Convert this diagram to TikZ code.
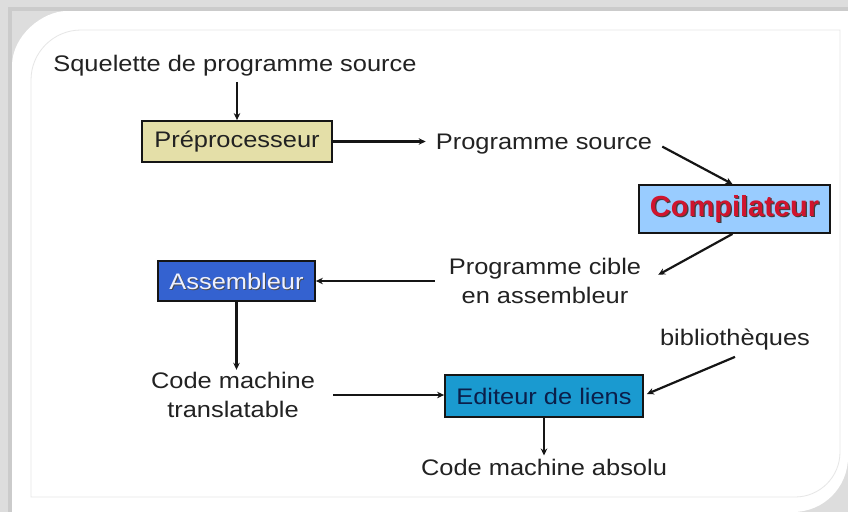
\documentclass[tikz,border=0pt]{standalone}
\usepackage{fontspec}
\setmainfont{Liberation Sans}[FakeStretch=1.13]
\newfontfamily\titlesans{Liberation Sans}[FakeStretch=1.0]
\usetikzlibrary{arrows.meta}

\definecolor{framegray}{HTML}{DDDDDD}
\definecolor{framedark}{HTML}{CBCBCB}
\definecolor{innerline}{HTML}{E6E6E6}
\definecolor{inkcol}{HTML}{222222}
\definecolor{linecol}{HTML}{151515}
\definecolor{prefill}{HTML}{E4DFA8}
\definecolor{compfill}{HTML}{99CCFF}
\definecolor{compred}{HTML}{D0142E}
\definecolor{asmfill}{HTML}{3462D0}
\definecolor{asmtext}{HTML}{EEF1FF}
\definecolor{edlfill}{HTML}{1A9AD0}
\definecolor{edltext}{HTML}{0B1F4A}

\begin{document}
\begin{tikzpicture}[x=1pt,y=-1pt,
  txt/.style={inner sep=0pt, text=inkcol, align=center,
    font=\fontsize{22.5}{29.5}\selectfont},
  box/.style={draw=linecol, line width=1.8pt, inner sep=0pt, text=inkcol,
    font=\fontsize{22.5}{29.5}\selectfont},
  comptext/.style={inner sep=0pt, font=\titlesans\bfseries\fontsize{29}{33}\selectfont},
  arr/.style={draw=linecol, line width=2.2pt, -{Stealth[length=7pt,width=6.5pt]}}]

\useasboundingbox (0,0) rectangle (848,512);

% grey backdrop with darker inner strips
\fill[framegray] (0,0) rectangle (848,512);
\fill[framedark] (8,7) rectangle (12,512);
\fill[framedark] (8,7) rectangle (848,11);

% white card: rounded top-left and bottom-right corners
\fill[white] (12,512) -- (12,66) .. controls (12,35.6) and (42.4,11) .. (67,11)
  -- (848,11) -- (848,457) .. controls (848,487.4) and (823.6,512) .. (793,512) -- cycle;

% faint inner outline
\draw[innerline, line width=0.8pt] (31,497) -- (31,80) .. controls (31,52.4) and (53.4,30) .. (81,30)
  -- (840,30) -- (840,452) .. controls (840,476.9) and (819.9,497) .. (795,497) -- cycle;

% texts
\node[txt, anchor=base] (sq) at (235,71) {Squelette de programme source};
\node[txt, anchor=base] (ps) at (544,149) {Programme source};
\node[txt] (pc) at (545,281) {Programme cible\\en assembleur};
\node[txt] (cmt) at (233,395) {Code machine\\translatable};
\node[txt, anchor=base] (bib) at (735,345) {bibliothèques};
\node[txt, anchor=base] (cma) at (544,475) {Code machine absolu};

% boxes
\node[box, fill=prefill, minimum width=190pt, minimum height=41pt] (pre) at (237,141.5) {Préprocesseur};
\node[box, fill=compfill, minimum width=191pt, minimum height=48pt] (comp) at (734.5,209) {};
\node[comptext, text=black!75] (compshade) at ([xshift=1.3pt,yshift=-1.3pt]comp.center) {Compilateur};
\node[comptext, text=compred] (complabel) at (comp.center) {Compilateur};
\node[box, fill=asmfill, minimum width=157pt, minimum height=40pt] (asm) at (236.5,281) {};
\node[txt, text=black!70] (asmshade) at ([xshift=1pt,yshift=-1pt]asm.center) {Assembleur};
\node[txt, text=asmtext] (asmlabel) at (asm.center) {Assembleur};
\node[box, fill=edlfill, text=edltext, minimum width=198pt, minimum height=42pt] (edl) at (544,396) {Editeur de liens};

% connectors
\draw[arr] ([yshift=-6pt]sq.south -| pre.north) -- (pre.north);
\draw[arr] (pre.east) -- ([xshift=-10pt]pre.east -| ps.west);
\draw[arr] ([xshift=10pt,yshift=-3pt]ps.east) -- ([xshift=-2pt]comp.north);
\draw[arr] ([xshift=-2pt]comp.south) -- ([xshift=17pt,yshift=-17pt]pc.north east);
\draw[arr] ([xshift=-14pt]pc.west) -- (pc.west -| asm.east);
\draw[arr] (asm.south) -- ([yshift=2pt]asm.south |- cmt.north);
\draw[arr] ([xshift=18pt]cmt.east) -- (cmt.east -| edl.west);
\draw[arr] ([yshift=-7pt]bib.south) -- ([xshift=3pt,yshift=2pt]edl.east);
\draw[arr] (edl.south) -- ([yshift=3pt]edl.south |- cma.north);
\end{tikzpicture}
\end{document}
